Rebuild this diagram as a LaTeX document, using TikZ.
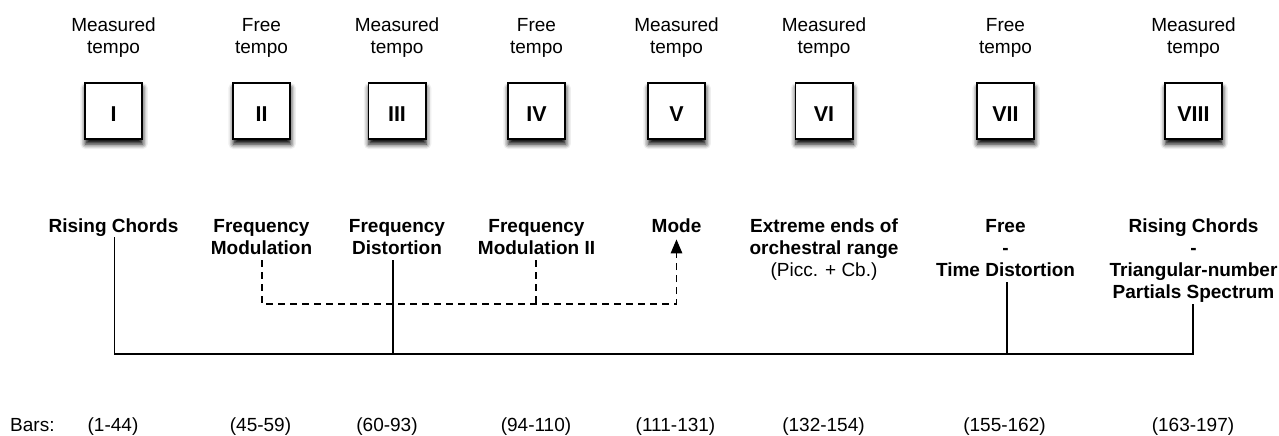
\documentclass[tikz,border=0pt]{standalone}
\usepackage{fontspec}
\setmainfont{Liberation Sans}
\usetikzlibrary{arrows.meta,shadows.blur}
\begin{document}
\begin{tikzpicture}[x=1pt,y=-1pt,
  tempo/.style={font=\fontsize{19}{21.5}\selectfont, align=center, inner sep=0pt, anchor=base},
  part/.style={draw=black, line width=1.7pt, fill=white,
    minimum width=57.3pt, minimum height=56.3pt, inner sep=0pt,
    text height=21.4pt, text depth=0pt,
    font=\fontsize{21.5}{24}\bfseries\selectfont,
    blur shadow={shadow xshift=0.6pt, shadow yshift=-5pt,
      shadow blur radius=5pt, shadow opacity=100}},
  topic/.style={font=\fontsize{19}{22}\bfseries\selectfont, align=center, inner sep=0pt, anchor=base},
  bars/.style={font=\fontsize{19}{22}\selectfont, inner sep=0pt, anchor=base},
  wire/.style={line width=1.6pt},
  link/.style={line width=1.5pt, dash pattern=on 7pt off 5pt},
]
\useasboundingbox (0,0) rectangle (1279,436);

% tempo markings (anchored on the baseline of the last line)
\node[tempo] (t1) at (113.5,53) {Measured\\tempo};
\node[tempo] (t2) at (261.5,53) {Free\\tempo};
\node[tempo] (t3) at (397,53)   {Measured\\tempo};
\node[tempo] (t4) at (536.5,53) {Free\\tempo};
\node[tempo] (t5) at (676.5,53) {Measured\\tempo};
\node[tempo] (t6) at (824,53)   {Measured\\tempo};
\node[tempo] (t7) at (1005.5,53){Free\\tempo};
\node[tempo] (t8) at (1193.5,53){Measured\\tempo};

% movement boxes
\node[part] (p1) at (113.5,111) {I};
\node[part] (p2) at (261.5,111) {II};
\node[part] (p3) at (397,111)   {III};
\node[part] (p4) at (536.5,111) {IV};
\node[part] (p5) at (676.5,111) {V};
\node[part] (p6) at (824,111)   {VI};
\node[part] (p7) at (1005.5,111){VII};
\node[part] (p8) at (1193.5,111){VIII};

% material of each movement
\node[topic] (rc)   at (113.5,232) {Rising Chords};
\node[topic] (fm)   at (261.5,254) {Frequency\\Modulation};
\node[topic] (fd)   at (397,254)   {Frequency\\Distortion};
\node[topic] (fm2)  at (536.5,254) {Frequency\\Modulation II};
\node[topic] (mode) at (676.5,232) {Mode};
\node[topic] (ex)   at (824,276)   {Extreme ends of\\orchestral range\\{\mdseries (Picc. + Cb.)}};
\node[topic] (fr)   at (1005.5,276){Free\\-\\Time Distortion};
\node[topic] (rt)   at (1193.5,298){Rising Chords\\-\\Triangular-number\\Partials Spectrum};

% bar ranges
\node[bars, anchor=base west] (bl) at (10,431) {Bars:};
\node[bars] (b1) at (113,431)   {(1-44)};
\node[bars] (b2) at (260.5,431) {(45-59)};
\node[bars] (b3) at (387,431)   {(60-93)};
\node[bars] (b4) at (536,431)   {(94-110)};
\node[bars] (b5) at (675.5,431) {(111-131)};
\node[bars] (b6) at (823.5,431) {(132-154)};
\node[bars] (b7) at (1004.5,431){(155-162)};
\node[bars] (b8) at (1193,431)  {(163-197)};

% solid links: rising-chord / time family
\coordinate (bus) at (0,354);
\coordinate (rcA) at ([xshift=0.8pt,yshift=-1pt]rc.south);
\coordinate (fdA) at ([xshift=-4.3pt,yshift=-6pt]fd.south);
\coordinate (frA) at ([xshift=1.2pt,yshift=-5.7pt]fr.south);
\coordinate (rtA) at ([xshift=-0.8pt,yshift=-2pt]rt.south);
\draw[wire] (rcA) -- (rcA |- bus) -| (rtA);
\draw[wire] (fdA) -- (fdA |- bus);
\draw[wire] (frA) -- (frA |- bus);

% dashed links: frequency family leading to Mode
\coordinate (dash) at (0,304);
\coordinate (fmA)   at ([xshift=0.5pt,yshift=-6pt]fm.south);
\coordinate (fm2A)  at ([xshift=-0.5pt,yshift=-6pt]fm2.south);
\coordinate (modeA) at ([yshift=-7pt]mode.south);
\draw[link, -{Triangle[length=14pt,width=11.5pt]}] (fmA) |- (modeA |- dash) -- (modeA);
\draw[link] (fm2A) -- (fm2A |- dash);
\end{tikzpicture}
\end{document}
